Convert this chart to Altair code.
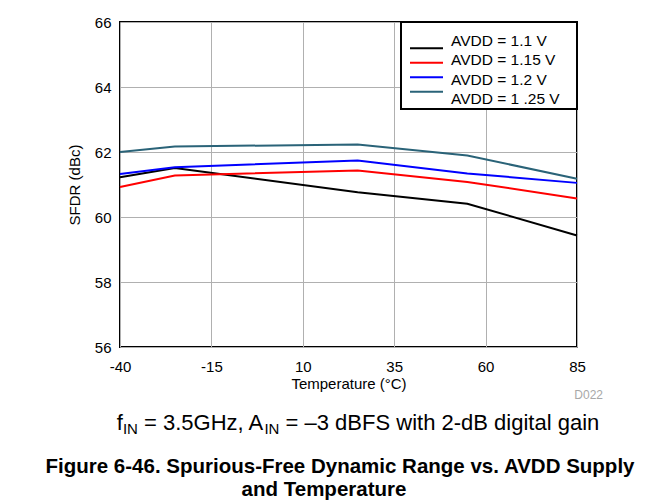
import altair as alt
import pandas as pd

# ---- data ----
temps = [-40, -25, 25, 55, 85]
series = ["AVDD = 1.1 V", "AVDD = 1.15 V", "AVDD = 1.2 V", "AVDD = 1 .25 V"]
sfdr_110 = [61.22, 61.51, 60.76, 60.41, 59.43]
sfdr_115 = [60.92, 61.28, 61.43, 61.08, 60.57]
sfdr_120 = [61.32, 61.53, 61.74, 61.34, 61.05]
sfdr_125 = [62.00, 62.17, 62.23, 61.89, 61.18]
colors = ["#000000", "#ff0000", "#0000ff", "#2a6378"]
x_ticks = [-40, -15, 10, 35, 60, 85]
y_ticks = [56, 58, 60, 62, 64, 66]

FONT = "Liberation Sans"

rows = []
for name, vals in zip(series, [sfdr_110, sfdr_115, sfdr_120, sfdr_125]):
    for t, v in zip(temps, vals):
        rows.append({"series": name, "temp": t, "sfdr": v})
df = pd.DataFrame(rows)

W, H = 457, 325

lines = alt.Chart(df).mark_line(strokeWidth=2).encode(
    x=alt.X("temp:Q",
            scale=alt.Scale(domain=[-40, 85], nice=False, zero=False),
            axis=alt.Axis(values=x_ticks, title="Temperature (°C)",
                          labelExpr="'' + datum.value", labelFlush=False,
                          labelPadding=12, titlePadding=2)),
    y=alt.Y("sfdr:Q",
            scale=alt.Scale(domain=[56, 66], nice=False, zero=False),
            axis=alt.Axis(values=y_ticks, title="SFDR (dBc)", labelFlush=False,
                          labelPadding=9, titlePadding=12)),
    color=alt.Color("series:N", scale=alt.Scale(domain=series, range=colors),
                    legend=None),
)

one = pd.DataFrame({"a": [0]})
leg_box = alt.Chart(one).mark_rect(fill="white", stroke="black", strokeWidth=2).encode(
    x=alt.value(281), x2=alt.value(457), y=alt.value(0), y2=alt.value(87)
)
leg_df = pd.DataFrame({"series": series})
leg_y = alt.Y("series:N", scale=alt.Scale(domain=series, range=[19, 77], padding=0),
              axis=None)
leg_lines = alt.Chart(leg_df).mark_rule(strokeWidth=2).encode(
    x=alt.value(290), x2=alt.value(323), y=leg_y,
    color=alt.Color("series:N", scale=alt.Scale(domain=series, range=colors),
                    legend=None),
)
leg_text = alt.Chart(leg_df).mark_text(
    align="left", baseline="middle", font=FONT, fontSize=15.5, color="black"
).encode(x=alt.value(331), y=leg_y, text="series:N")

# ---- annotation texts ----
ARIAL = {" ": 278, "=": 584, ".": 278, ",": 278, "-": 333, "–": 556,
         "f": 278, "i": 222, "t": 278, "l": 222, "w": 722, "z": 500,
         "A": 667, "B": 667, "F": 611, "G": 778, "H": 722, "I": 278,
         "N": 722, "S": 667}


def tw(s, size):
    return sum(ARIAL.get(c, 556) for c in s) * size / 1000.0


main_fs, sub_fs = 22, 15
# (text, font size, baseline shift, number of leading spaces)
pieces = [("f", main_fs, 0, 0), ("IN", sub_fs, 4, 0),
          ("= 3.5GHz, A", main_fs, 0, 1),
          ("IN", sub_fs, 4, 0),
          ("= –3 dBFS with 2-dB digital gain", main_fs, 0, 1)]
total = sum(tw(p, s) + lead * tw(" ", main_fs) for p, s, _, lead in pieces)
x0 = 238 - total / 2
base_y = 408
sub_layers = []
for txt, fs, dy, lead in pieces:
    x0 += lead * tw(" ", main_fs)
    sub_layers.append(
        alt.Chart(one).mark_text(align="left", baseline="alphabetic", font=FONT,
                                 fontSize=fs, color="black", text=txt)
        .encode(x=alt.value(x0), y=alt.value(base_y + dy))
    )
    x0 += tw(txt, fs)

cap1 = alt.Chart(one).mark_text(
    align="center", baseline="alphabetic", font=FONT, fontSize=20.5,
    fontWeight="bold", color="black",
    text="Figure 6-46. Spurious-Free Dynamic Range vs. AVDD Supply",
).encode(x=alt.value(220), y=alt.value(451))
cap2 = alt.Chart(one).mark_text(
    align="center", baseline="alphabetic", font=FONT, fontSize=20.5,
    fontWeight="bold", color="black", text="and Temperature",
).encode(x=alt.value(204), y=alt.value(474))
code = alt.Chart(one).mark_text(
    align="right", baseline="middle", font=FONT, fontSize=12,
    color="#a8a8a8", text="D022",
).encode(x=alt.value(483), y=alt.value(373))

chart = alt.layer(
    lines, leg_box, leg_lines, leg_text, *sub_layers, cap1, cap2, code
).resolve_scale(y="independent").properties(
    width=W, height=H, autosize="none", background="white",
    padding={"left": 112, "top": 14, "right": 79, "bottom": 156},
).configure_view(
    stroke="black", strokeWidth=2
).configure_axis(
    grid=True, gridColor="#b0b0b0", gridWidth=1, domain=False, ticks=False,
    labelFont=FONT, labelFontSize=15, labelColor="black",
    titleFont=FONT, titleFontSize=15, titleFontWeight="normal", titleColor="black",
)

chart.save("out.html", embed_options={"renderer": "svg", "actions": False})
